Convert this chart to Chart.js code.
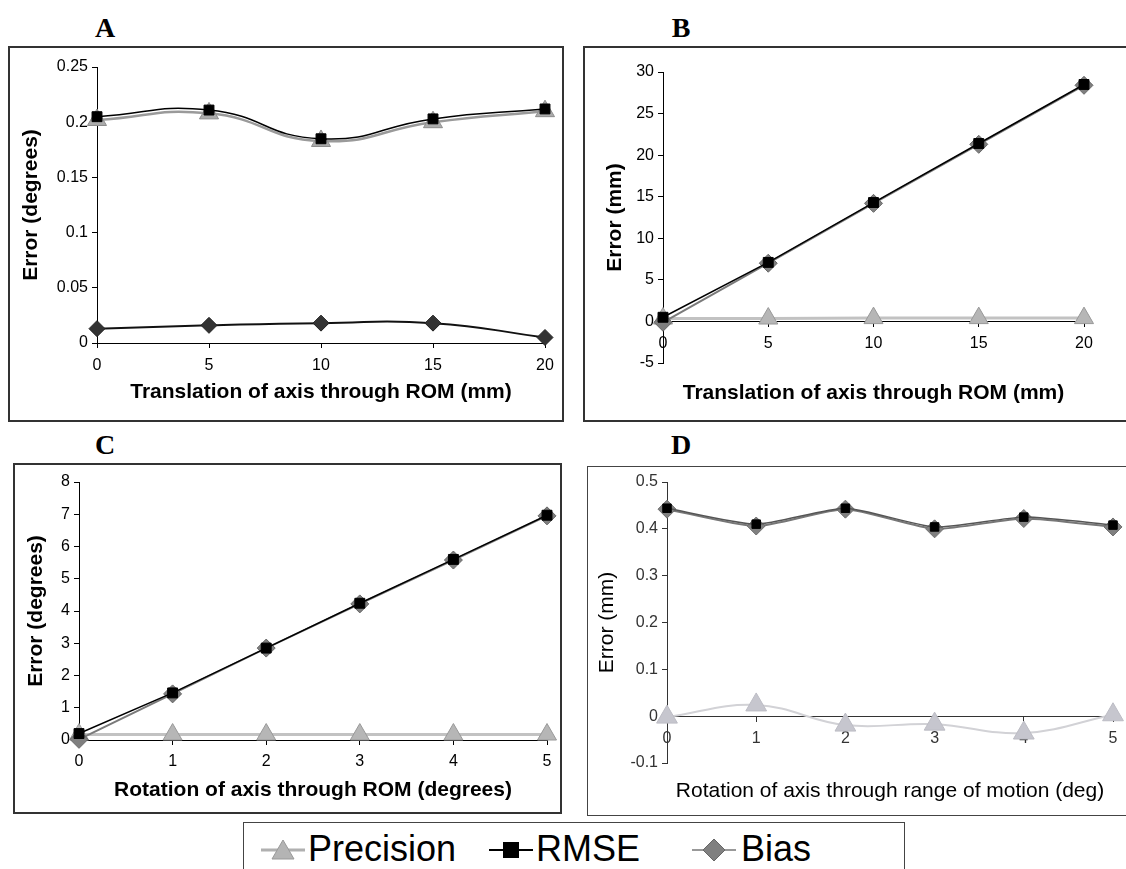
<!DOCTYPE html>
<html>
<head>
<meta charset="utf-8">
<script src="https://cdn.jsdelivr.net/npm/chart.js@4.4.1/dist/chart.umd.min.js"></script>
<style>
  html, body { margin: 0; padding: 0; background: #fff; }
  #page { position: relative; width: 1126px; height: 869px; overflow: hidden; background: #fff; }
  .box { position: absolute; box-sizing: border-box; border: 2px solid #333; }
  .cv { position: absolute; }
  .lbl { position: absolute; width: 40px; text-align: center; font: bold 28px "Liberation Serif", "Times New Roman", serif; line-height: 28px; color: #000; }
  #legend { position: absolute; left: 243px; top: 822px; width: 662px; height: 70px; box-sizing: border-box; border: 1.5px solid #444; font-family: "Liberation Sans", Arial, sans-serif; }
  #legend .mk { position: absolute; top: 14px; }
  #legend .tx { position: absolute; top: 8px; font-size: 36px; line-height: 36px; color: #000; }
</style>
</head>
<body>
<div id="page">
  <div class="lbl" style="left:85px;top:14px">A</div>
  <div class="lbl" style="left:661px;top:14px">B</div>
  <div class="lbl" style="left:85px;top:431px">C</div>
  <div class="lbl" style="left:661px;top:431px">D</div>

  <div class="box" style="left:8px;top:46px;width:556px;height:376px"></div>
  <div class="box" style="left:583px;top:46px;width:580px;height:376px"></div>
  <div class="box" style="left:13px;top:463px;width:549px;height:351px"></div>
  <div class="box" style="left:587px;top:466px;width:580px;height:350px;border:1.5px solid #444"></div>

  <canvas id="cA" class="cv" width="555" height="375" style="left:8px;top:46px"></canvas>
  <canvas id="cB" class="cv" width="542" height="375" style="left:584px;top:46px"></canvas>
  <canvas id="cC" class="cv" width="547" height="350" style="left:14px;top:463px"></canvas>
  <canvas id="cD" class="cv" width="539" height="349" style="left:587px;top:466px"></canvas>

  <div id="legend">
    <svg class="mk" style="left:17px" width="44" height="26"><line x1="0" y1="13" x2="44" y2="13" stroke="#b0b0b0" stroke-width="3"/><polygon points="22,3 33,22 11,22" fill="#b4b4b4" stroke="#999" stroke-width="1"/></svg>
    <span class="tx" style="left:64px">Precision</span>
    <svg class="mk" style="left:245px" width="44" height="26"><line x1="0" y1="13" x2="44" y2="13" stroke="#000" stroke-width="2"/><rect x="14" y="5" width="16" height="16" fill="#000"/></svg>
    <span class="tx" style="left:292px">RMSE</span>
    <svg class="mk" style="left:448px" width="44" height="26"><line x1="0" y1="13" x2="44" y2="13" stroke="#999" stroke-width="2"/><polygon points="22,2 33,13 22,24 11,13" fill="#808080" stroke="#666" stroke-width="1"/></svg>
    <span class="tx" style="left:497px">Bias</span>
  </div>
</div>

<script>
// A: translation, error in degrees
const xA = [0, 5, 10, 15, 20];
const yTicksA = [0, 0.05, 0.1, 0.15, 0.2, 0.25];
const precisionA = [0.202, 0.208, 0.183, 0.200, 0.210];
const rmseA = [0.205, 0.211, 0.185, 0.203, 0.212];
const biasA = [0.013, 0.016, 0.018, 0.018, 0.005];

// B: translation, error in mm
const xB = [0, 5, 10, 15, 20];
const yTicksB = [-5, 0, 5, 10, 15, 20, 25, 30];
const precisionB = [0.35, 0.35, 0.4, 0.4, 0.4];
const rmseB = [0.5, 7.1, 14.3, 21.4, 28.5];
const biasB = [-0.1, 7.0, 14.2, 21.3, 28.4];

// C: rotation, error in degrees
const xC = [0, 1, 2, 3, 4, 5];
const yTicksC = [0, 1, 2, 3, 4, 5, 6, 7, 8];
const precisionC = [0.17, 0.17, 0.17, 0.17, 0.17, 0.17];
const rmseC = [0.2, 1.46, 2.85, 4.24, 5.6, 6.97];
const biasC = [0.02, 1.43, 2.85, 4.22, 5.58, 6.95];

// D: rotation, error in mm
const xD = [0, 1, 2, 3, 4, 5];
const yTicksD = [-0.1, 0, 0.1, 0.2, 0.3, 0.4, 0.5];
const precisionD = [-0.002, 0.024, -0.019, -0.017, -0.036, 0.003];
const rmseD = [0.444, 0.41, 0.444, 0.404, 0.425, 0.408];
const biasD = [0.442, 0.406, 0.442, 0.400, 0.422, 0.404];

Chart.defaults.font.family = '"Liberation Sans", Arial, sans-serif';

const pts = (xs, ys) => xs.map((x, i) => ({ x: x, y: ys[i] }));

function panel(id, o) {
  const col = o.axisColor;
  const titleFont = { size: 21, weight: o.titleWeight };
  const scales = {
    x: {
      type: 'linear',
      min: o.x[0],
      max: o.x[o.x.length - 1],
      position: o.xAtZero ? { y: 0 } : 'bottom',
      afterBuildTicks: s => { s.ticks = o.x.map(v => ({ value: v })); },
      grid: { drawOnChartArea: false, color: col, tickLength: 5 },
      border: { color: col },
      ticks: { color: col, font: { size: o.tickSize }, padding: o.xPad, maxRotation: 0, autoSkip: false, callback: v => String(v) },
      title: { display: !o.xAtZero, text: o.xTitle, color: '#000', font: titleFont, padding: { top: 0, bottom: o.xTitlePad } }
    },
    y: {
      type: 'linear',
      min: o.yTicks[0],
      max: o.yTicks[o.yTicks.length - 1],
      afterBuildTicks: s => { s.ticks = o.yTicks.map(v => ({ value: v })); },
      grid: { drawOnChartArea: false, color: col, tickLength: 5 },
      border: { color: col },
      ticks: { color: col, font: { size: o.tickSize }, padding: 4, callback: v => String(v) },
      title: { display: true, text: o.yTitle, color: '#000', font: titleFont, padding: { top: o.yTitlePad, bottom: 0 } },
      afterFit: s => { s.width = o.yWidth; }
    }
  };
  if (o.xAtZero) {
    // title-only axis at the bottom of the panel
    scales.xt = {
      type: 'linear', axis: 'x', position: 'bottom', min: 0, max: 1,
      grid: { display: false }, border: { display: false }, ticks: { display: false },
      title: { display: true, text: o.xTitle, color: '#000', font: titleFont, padding: { top: 0, bottom: o.xTitlePad } },
      afterFit: s => { s.height = o.xHeight; }
    };
  } else {
    scales.x.afterFit = s => { s.height = o.xHeight; };
  }

  const st = o.style;
  new Chart(document.getElementById(id), {
    type: 'line',
    data: {
      datasets: [
        {
          label: 'RMSE', data: pts(o.x, o.rmse), xAxisID: 'x', yAxisID: 'y', clip: false,
          borderColor: st.rmseLine, borderWidth: 1.5, tension: o.tension,
          pointStyle: 'rect', pointRadius: st.rmseR, pointBackgroundColor: '#000', pointBorderColor: '#000', pointBorderWidth: 1
        },
        {
          label: 'Bias', data: pts(o.x, o.bias), xAxisID: 'x', yAxisID: 'y', clip: false,
          borderColor: st.biasLine, borderWidth: 2, tension: o.tension,
          pointStyle: 'rectRot', pointRadius: st.biasR, pointBackgroundColor: st.biasFill, pointBorderColor: st.biasEdge, pointBorderWidth: 1
        },
        {
          label: 'Precision', data: pts(o.x, o.precision), xAxisID: 'x', yAxisID: 'y', clip: false,
          borderColor: st.precLine, borderWidth: st.precW, tension: o.precTension,
          pointStyle: 'triangle', pointRadius: st.precR, pointBackgroundColor: st.precFill, pointBorderColor: st.precEdge, pointBorderWidth: 1
        }
      ]
    },
    options: {
      responsive: false,
      animation: false,
      devicePixelRatio: 1,
      events: [],
      layout: { padding: o.pad },
      plugins: { legend: { display: false }, tooltip: { enabled: false } },
      scales: scales
    }
  });
}

const darkStyle = {
  rmseLine: '#000', rmseR: 7,
  biasLine: '#111', biasR: 8, biasFill: '#333', biasEdge: '#222',
  precLine: '#9a9a9a', precW: 2.5, precR: 11, precFill: '#ababab', precEdge: '#8c8c8c'
};
const greyStyle = {
  rmseLine: '#000', rmseR: 7,
  biasLine: '#7a7a7a', biasR: 9, biasFill: '#7f7f7f', biasEdge: '#666',
  precLine: '#c2c2c2', precW: 3, precR: 11, precFill: '#b6b6b6', precEdge: '#999'
};
const softStyle = {
  rmseLine: '#555', rmseR: 6,
  biasLine: '#777', biasR: 9, biasFill: '#808080', biasEdge: '#6e6e6e',
  precLine: '#d2d2d6', precW: 2, precR: 12, precFill: '#c6c6ce', precEdge: '#bcbcc4'
};

panel('cA', {
  x: xA, yTicks: yTicksA, rmse: rmseA, bias: biasA, precision: precisionA,
  xTitle: 'Translation of axis through ROM (mm)', yTitle: 'Error (degrees)',
  axisColor: '#000', titleWeight: 'bold', tickSize: 16, style: darkStyle,
  tension: 0.5, precTension: 0.5, xAtZero: false,
  pad: { left: 0, top: 21, right: 18, bottom: 0 }, yWidth: 89, yTitlePad: 11,
  xHeight: 78, xPad: 8, xTitlePad: 16
});

panel('cB', {
  x: xB, yTicks: yTicksB, rmse: rmseB, bias: biasB, precision: precisionB,
  xTitle: 'Translation of axis through ROM (mm)', yTitle: 'Error (mm)',
  axisColor: '#000', titleWeight: 'bold', tickSize: 16, style: greyStyle,
  tension: 0, precTension: 0, xAtZero: true,
  pad: { left: 0, top: 26, right: 42, bottom: 0 }, yWidth: 79, yTitlePad: 19,
  xHeight: 58, xPad: 8, xTitlePad: 15
});

panel('cC', {
  x: xC, yTicks: yTicksC, rmse: rmseC, bias: biasC, precision: precisionC,
  xTitle: 'Rotation of axis through ROM (degrees)', yTitle: 'Error (degrees)',
  axisColor: '#000', titleWeight: 'bold', tickSize: 16, style: greyStyle,
  tension: 0, precTension: 0, xAtZero: false,
  pad: { left: 0, top: 19, right: 14, bottom: 0 }, yWidth: 65, yTitlePad: 10,
  xHeight: 73, xPad: 7, xTitlePad: 10
});

panel('cD', {
  x: xD, yTicks: yTicksD, rmse: rmseD, bias: biasD, precision: precisionD,
  xTitle: 'Rotation of axis through range of motion (deg)', yTitle: 'Error (mm)',
  axisColor: '#333', titleWeight: 'normal', tickSize: 16, style: softStyle,
  tension: 0.2, precTension: 0.4, xAtZero: true,
  pad: { left: 0, top: 16, right: 8, bottom: 0 }, yWidth: 80, yTitlePad: 8,
  xHeight: 52, xPad: 8, xTitlePad: 11
});
</script>
</body>
</html>
